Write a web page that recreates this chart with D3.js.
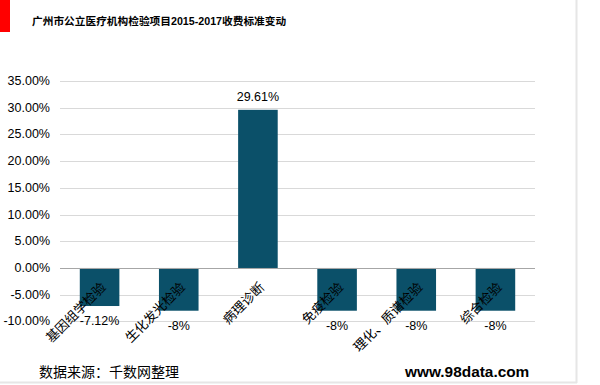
<!DOCTYPE html>
<html>
<head>
<meta charset="utf-8">
<script src="https://cdn.jsdelivr.net/npm/d3@7"></script>
<style>
  body { margin: 0; background: #fff; }
  text { font-family: "Liberation Sans", Arial, "Noto Sans CJK SC", sans-serif; }
</style>
</head>
<body>
<div id="vis"></div>
<script>
var categories = ['基因组学检验', '生化发光检验', '病理诊断', '免疫检验', '理化、质谱检验', '综合检验'];
var values = [-7.12, -8, 29.61, -8, -8, -8];
var valueLabels = ['-7.12%', '-8%', '29.61%', '-8%', '-8%', '-8%'];
var ticks = [-10, -5, 0, 5, 10, 15, 20, 25, 30, 35];

var width = 600, height = 385;
var margin = { top: 81, right: 65, bottom: 64, left: 60 };

var svg = d3.select('#vis')
    .append('svg')
    .attr('width', width)
    .attr('height', height);

// frame lines and red marker
svg.append('line').attr('x1', 576.5).attr('x2', 576.5).attr('y1', 0).attr('y2', 383)
    .attr('stroke', '#e6e6e6').attr('stroke-width', 2);
svg.append('line').attr('x1', 0).attr('x2', 577).attr('y1', 382.5).attr('y2', 382.5)
    .attr('stroke', '#e6e6e6').attr('stroke-width', 2);
svg.append('rect').attr('x', 0).attr('y', 0).attr('width', 10).attr('height', 32).attr('fill', '#ff0000');

svg.append('text')
    .text('广州市公立医疗机构检验项目2015-2017收费标准变动')
    .attr('x', 32)
    .attr('y', 25)
    .style('font-size', '10.7px')
    .style('font-weight', 'bold')
    .attr('fill', '#000');

var x = d3.scaleBand()
    .domain(categories)
    .range([margin.left, 535])
    .paddingInner(0.5)
    .paddingOuter(0.25);

var y = d3.scaleLinear()
    .domain([-10, 35])
    .range([321.4, 81]);

var g = svg.append('g');

g.selectAll('.grid')
    .data(ticks.filter(function (t) { return t !== 0; }))
    .enter().append('line')
    .attr('x1', margin.left)
    .attr('x2', 535)
    .attr('y1', function (t) { return Math.round(y(t)) + 0.5; })
    .attr('y2', function (t) { return Math.round(y(t)) + 0.5; })
    .attr('stroke', '#d9d9d9')
    .attr('stroke-width', 1);

g.selectAll('.tick-label')
    .data(ticks)
    .enter().append('text')
    .attr('x', 50)
    .attr('y', function (t) { return y(t); })
    .attr('text-anchor', 'end')
    .attr('dominant-baseline', 'central')
    .style('font-size', '12.5px')
    .attr('fill', '#000')
    .text(function (t) { return t.toFixed(2) + '%'; });

g.selectAll('.bar')
    .data(values)
    .enter().append('rect')
    .attr('x', function (d, i) { return x(categories[i]); })
    .attr('width', x.bandwidth())
    .attr('y', function (d) { return y(Math.max(0, d)); })
    .attr('height', function (d) { return Math.abs(y(d) - y(0)); })
    .attr('fill', '#0b5069');

g.append('line')
    .attr('x1', margin.left)
    .attr('x2', 535)
    .attr('y1', Math.round(y(0)) + 0.5)
    .attr('y2', Math.round(y(0)) + 0.5)
    .attr('stroke', '#a6a6a6')
    .attr('stroke-width', 1);

g.selectAll('.val')
    .data(values)
    .enter().append('text')
    .attr('x', function (d, i) { return x(categories[i]) + x.bandwidth() / 2; })
    .attr('y', function (d) { return d < 0 ? y(d) + 15 : y(d) - 13; })
    .attr('text-anchor', 'middle')
    .attr('dominant-baseline', 'central')
    .style('font-size', '12.5px')
    .attr('fill', '#000')
    .text(function (d, i) { return valueLabels[i]; });

g.selectAll('.cat')
    .data(categories)
    .enter().append('text')
    .attr('transform', function (c) {
        return 'translate(' + (x(c) + x.bandwidth() / 2 + 4) + ',' + (y(0) + 17) + ') rotate(-45)';
    })
    .attr('text-anchor', 'end')
    .attr('dominant-baseline', 'central')
    .style('font-size', '13px')
    .attr('fill', '#000')
    .text(function (c) { return c; });

svg.append('text')
    .text('数据来源：千数网整理')
    .attr('x', 39)
    .attr('y', 377)
    .style('font-size', '14px')
    .attr('fill', '#000');

svg.append('text')
    .text('www.98data.com')
    .attr('x', 405)
    .attr('y', 377)
    .style('font-size', '15.4px')
    .style('font-weight', 'bold')
    .attr('fill', '#000');
</script>
</body>
</html>
